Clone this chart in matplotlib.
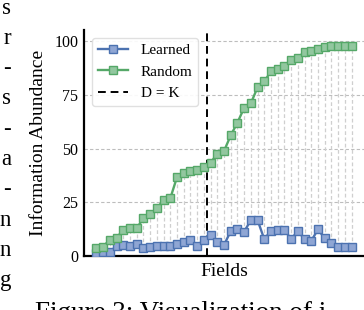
import numpy as np
import matplotlib
matplotlib.use("Agg")
import matplotlib.pyplot as plt

# values
learned = [1.3, 2.1, 2.1, 4.8, 5.2, 5.0, 5.5, 4.0, 4.5, 4.6,
           4.6, 4.7, 5.6, 6.6, 7.4, 5.0, 7.6, 9.9, 6.5, 5.2,
           11.7, 12.5, 11.4, 16.8, 16.8, 7.9, 11.9, 12.2, 12.2, 8.0,
           11.7, 8.0, 7.2, 12.5, 8.3, 6.3, 4.2, 4.2, 4.2]
random_ = [3.9, 4.5, 7.7, 8.6, 12.2, 13.0, 13.1, 17.6, 19.6, 22.3,
           26.1, 26.9, 36.7, 38.5, 39.7, 40.0, 41.6, 43.4, 47.6, 48.8,
           56.1, 62.0, 68.9, 71.0, 78.4, 81.2, 85.8, 86.9, 88.4, 91.2,
           92.0, 95.0, 95.4, 96.2, 97.2, 97.4, 97.7, 97.7, 97.7]
k_pos = 16.5
y_ticks = [0, 25, 50, 75, 100]

# cropped neighbouring page text
side_letters = ["s", "r", "-", "s", "-", "a", "-", "n", "n", "g"]
caption = "Figure 3: Visualization of i"

plt.rcParams['font.family'] = ['Liberation Serif', 'DejaVu Serif']

W, H = 364, 310
fig = plt.figure(figsize=(W / 100, H / 100), dpi=100)
ax = fig.add_axes([84 / W, 1 - 256.3 / H, 280 / W, 226.3 / H])

x = np.arange(len(learned))
blue = "#4C72B0"
green = "#55A868"

# dashed connectors between the two series
ax.vlines(x, learned, random_, colors="#cfcfcf", linestyles=(0, (3, 2)), lw=0.9, zorder=1)

ax.plot(x, learned, color=blue, lw=1.7, marker="s", ms=5.2, mfc="#8fa6d4", mec=blue, mew=1.0,
        label="Learned", zorder=3)
ax.plot(x, random_, color=green, lw=1.7, marker="s", ms=5.2, mfc="#92c79f", mec=green, mew=1.0,
        label="Random", zorder=3)
ax.axvline(k_pos, color="black", ls=(0, (4, 2.5)), lw=1.4, label="D = K", zorder=2)

ax.set_xlim(-1.85, 39.85)
ax.set_ylim(0, 105)
ax.set_yticks(y_ticks)
ax.set_xticks([])
ax.tick_params(axis="y", length=0, pad=4, labelsize=11.5)
ax.yaxis.grid(True, color="#bdbdbd", ls=(0, (3, 2)), lw=0.8)
ax.set_axisbelow(True)

for side in ["top", "right"]:
    ax.spines[side].set_visible(False)
for side in ["left", "bottom"]:
    ax.spines[side].set_linewidth(1.6)
    ax.spines[side].set_color("black")

ax.set_ylabel("Information Abundance", fontsize=14, labelpad=5)
ax.set_xlabel("Fields", fontsize=14, labelpad=5)

leg = ax.legend(loc="upper left", fontsize=11, frameon=True, fancybox=True,
                edgecolor="#dddddd", framealpha=0.9, borderaxespad=0.5)

# text from the surrounding page
for i, ch in enumerate(side_letters):
    fig.text(11 / W, 1 - (13.5 + 30.3 * i) / H, ch, ha="right", va="baseline", fontsize=16.5)
fig.text(35 / W, 1 - 320 / H, caption, ha="left", va="baseline", fontsize=19.5)

fig.savefig("out.png", dpi=100)
